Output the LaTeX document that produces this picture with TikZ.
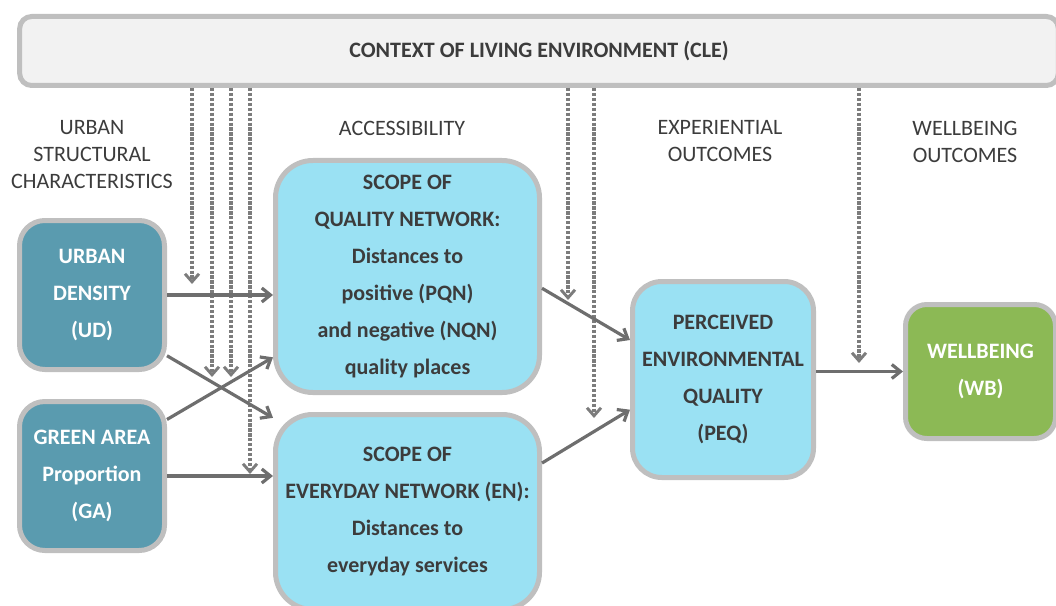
\documentclass[tikz,border=0pt]{standalone}
\usepackage{fontspec}
\setmainfont{Carlito}
\usetikzlibrary{arrows.meta}
\definecolor{tealbox}{HTML}{5A9BAF}
\definecolor{skybox}{HTML}{9AE1F3}
\definecolor{greenbox}{HTML}{8CB955}
\definecolor{rimgray}{HTML}{BFBFBF}
\definecolor{ctxfill}{HTML}{F2F2F2}
\definecolor{txtgray}{HTML}{3C3C3C}
\definecolor{arwgray}{HTML}{6E6E6E}
\definecolor{dotgray}{HTML}{7C7C7C}
\begin{document}
\begin{tikzpicture}[
  x=0.75pt, y=-0.75pt,
  box/.style={rectangle, draw=rimgray, line width=3.75pt, align=center,
    font=\fontsize{16.5}{27.75}\selectfont\bfseries},
  sbox/.style={box, fill=tealbox, text=white, rounded corners=19pt,
    minimum width=108.75pt, minimum height=111.75pt},
  abox/.style={box, fill=skybox, text=txtgray, rounded corners=28pt,
    minimum width=198pt},
  lnode/.style={align=center, text=txtgray,
    font=\fontsize{16.5}{20.25}\selectfont},
  arw/.style={-{Straight Barb[length=6.5pt,width=10.5pt,line width=2.4pt]},
    line width=2.4pt, draw=arwgray},
  dotarw/.style={-{Straight Barb[length=6pt,width=10.5pt,line width=2.2pt]},
    line width=2.7pt, draw=dotgray, dash pattern=on 2.4pt off 1.3pt}
  ]
\useasboundingbox (0,0) rectangle (1056,606);
\clip (0,0) rectangle (1056,606);

% context
\node [box, fill=ctxfill, text=txtgray, rounded corners=9pt,
  minimum width=779pt, minimum height=51.75pt] (cle) at (539,51)
  {CONTEXT OF LIVING ENVIRONMENT (CLE)};

% column titles
\node [lnode] (tus) at (92,155) {URBAN\\STRUCTURAL\\CHARACTERISTICS};
\node [lnode] (tacc) at (402,128) {ACCESSIBILITY};
\node [lnode] (texp) at (720,141.5) {EXPERIENTIAL\\OUTCOMES};
\node [lnode] (twb) at (965,141.5) {WELLBEING\\OUTCOMES};

% urban structure
\node [sbox] (ud) at (92,295) {URBAN\\DENSITY\\(UD)};
\node [sbox] (ga) at (92,476) {GREEN AREA\\Proportion\\(GA)};

% accessibility
\node [abox, minimum height=174pt] (sqn) at (407.5,276.5)
  {SCOPE OF\\QUALITY NETWORK:\\Distances to\\positive (PQN)\\and negative (NQN)\\quality places};
\node [abox, minimum height=146.25pt] (sen) at (407.5,512)
  {SCOPE OF\\EVERYDAY NETWORK (EN):\\Distances to\\everyday services};

% outcomes
\node [box, fill=skybox, text=txtgray, rounded corners=22pt,
  minimum width=135.75pt, minimum height=147pt] (peq) at (723,379.5)
  {PERCEIVED\\ENVIRONMENTAL\\QUALITY\\(PEQ)};
\node [box, fill=greenbox, text=white, rounded corners=16pt,
  minimum width=112.5pt, minimum height=100.5pt] (wb) at (980.5,371.5)
  {WELLBEING\\(WB)};

% context effects
\coordinate (d1) at (192,284);
\coordinate (d2) at (212,377);
\coordinate (d3) at (231,377);
\coordinate (d4) at (250,474);
\coordinate (d5) at (568,300);
\coordinate (d6) at (594,418);
\coordinate (d7) at (859,363);
\foreach \d in {d1,d2,d3,d4,d5,d6,d7}
  \draw [dotarw] (cle.south -| \d) -- (\d);

% connection
\draw [arw] (ud.east) -- (ud.east -| sqn.west);
\draw [arw] (ud.-39) -- (sen.145);
\draw [arw] (ga.37) -- (sqn.211);
\draw [arw] (ga.east) -- (ga.east -| sen.west);
\draw [arw] (sqn.-5) -- (peq.157);
\draw [arw] (sen.20) -- (peq.198);
\draw [arw] (peq.east |- wb.west) -- (wb.west);

\end{tikzpicture}
\end{document}
